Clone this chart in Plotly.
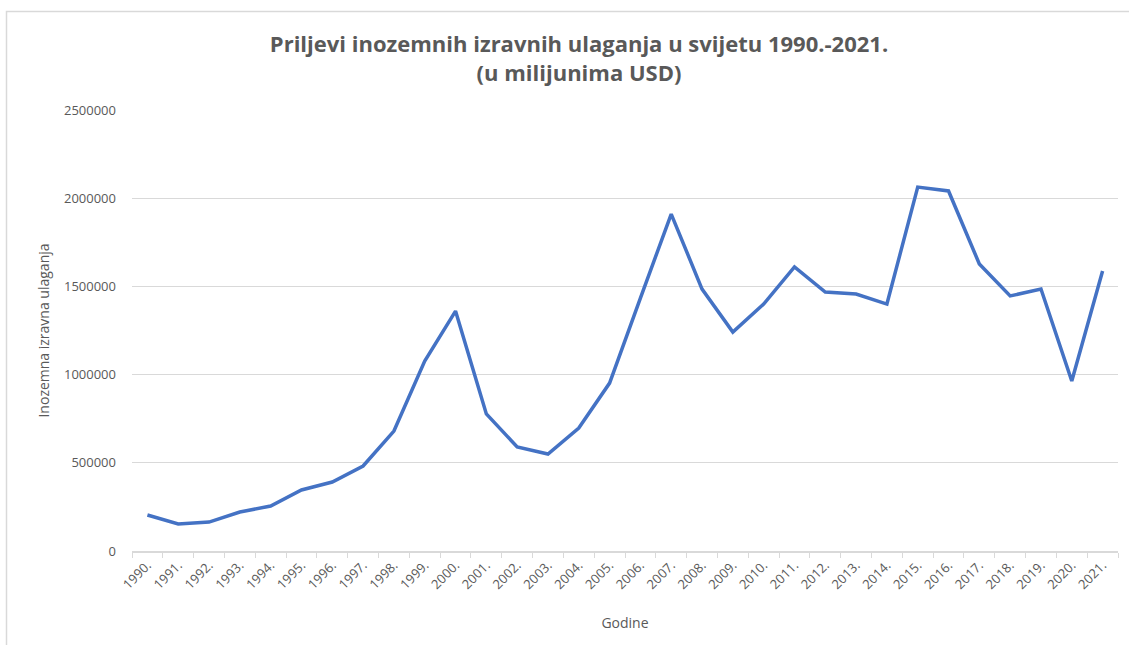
import plotly.graph_objects as go

years = [f"{y}." for y in range(1990, 2022)]
fdi = [204000, 153000, 164000, 221000, 255000, 346000, 391000, 482000, 680000,
       1077000, 1360000, 777000, 590000, 550000, 697000, 952000, 1434000, 1910000,
       1485000, 1241000, 1400000, 1610000, 1468000, 1457000, 1400000, 2063000,
       2041000, 1627000, 1446000, 1485000, 964000, 1587000]

font_fam = "Open Sans, Liberation Sans, sans-serif"
grey = "#595959"

fig = go.Figure()
fig.add_trace(go.Scatter(x=years, y=fdi, mode="lines",
                         line=dict(color="#4472C4", width=3.5)))

fig.update_layout(
    width=1129, height=645,
    paper_bgcolor="white", plot_bgcolor="white",
    margin=dict(l=132, r=11, t=110, b=94, autoexpand=False),
    showlegend=False,
    title=dict(text="<b>Priljevi inozemnih izravnih ulaganja u svijetu 1990.-2021.<br>(u milijunima USD)</b>",
               x=579 / 1129, xanchor="center", y=1 - 52 / 645, yanchor="top",
               font=dict(family=font_fam, size=22, color=grey)),
    font=dict(family=font_fam, color=grey),
)
fig.update_xaxes(
    type="category", tickangle=-45, tickfont=dict(size=13, color=grey),
    showgrid=False, showline=True, linecolor="#D9D9D9", linewidth=1.5,
    ticks="outside", tickson="boundaries", ticklen=5, tickcolor="#D9D9D9",
    title=dict(text="Godine", font=dict(size=14, color=grey), standoff=26),
    range=[-0.5, len(years) - 0.5], automargin=False,
)
fig.update_yaxes(
    range=[0, 2500000], dtick=500000, tickformat="d",
    showgrid=True, gridcolor="#D9D9D9", gridwidth=1.2, zeroline=False,
    tickfont=dict(size=13, color=grey), ticks="", ticklabelstandoff=15,
    title=dict(text="Inozemna izravna ulaganja", font=dict(size=14, color=grey), standoff=11),
    automargin=False,
)
# chart-area border (left and top edges visible)
fig.add_shape(type="rect", xref="paper", yref="paper",
              x0=(6.5 - 132) / 986, x1=1 + 30 / 986,
              y0=-120 / 441, y1=1 + (110 - 11.5) / 441,
              line=dict(color="#D9D9D9", width=1.5), layer="below")

fig.write_html("out.html", config={"displayModeBar": False},
               post_script="document.body.style.margin='0';")
